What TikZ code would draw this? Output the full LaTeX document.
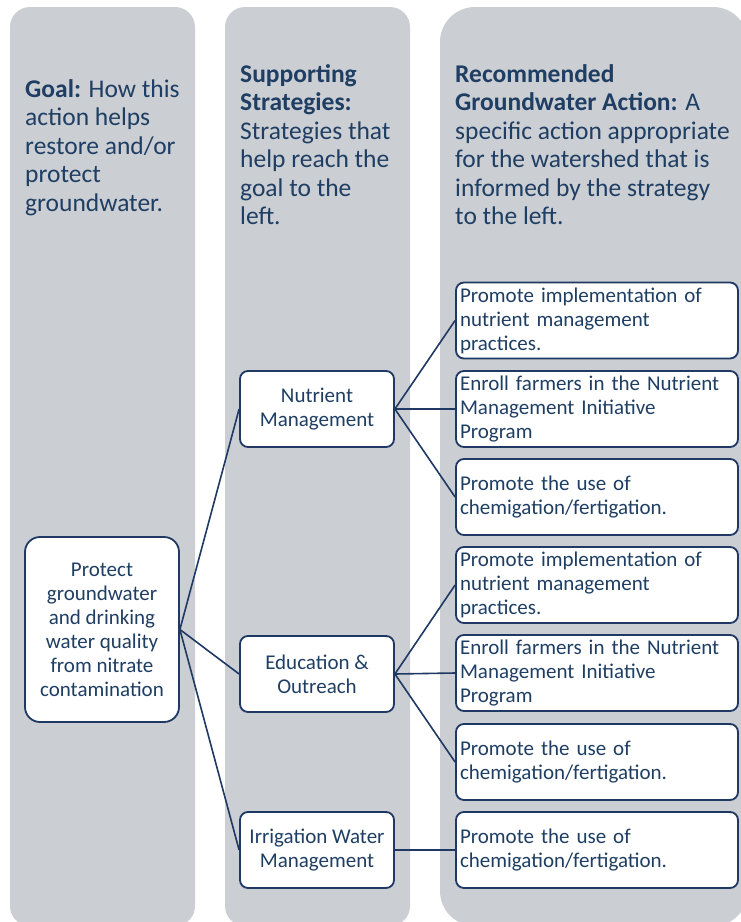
\documentclass[tikz,border=0pt]{standalone}
\usepackage{fontspec}
\setmainfont{Carlito}
\usepackage{xcolor}
\usepackage{tikz}
\usetikzlibrary{positioning}
\definecolor{panelgray}{RGB}{203,206,211}
\definecolor{navy}{RGB}{31,56,100}
\definecolor{ink}{RGB}{31,62,99}
\newcommand{\ColBottom}{926}
\newcommand{\HeadFont}{\fontsize{25.5}{28.5}\selectfont}
\newcommand{\BoxFont}{\fontsize{21}{24}\selectfont}
\tikzset{
  panel/.style={fill=panelgray, rounded corners=20pt},
  head/.style={anchor=north west, align=left, inner sep=0pt, text=ink, font=\HeadFont},
  card/.style={draw=navy, fill=white, line width=1.8pt, rounded corners=8pt, text=ink, font=\BoxFont},
  goalbox/.style={card, rounded corners=15pt, minimum width=154pt, minimum height=185pt, align=center, inner sep=2pt},
  strat/.style={card, minimum width=154pt, minimum height=76pt, align=center, inner sep=2pt},
  act/.style={card, minimum width=282pt, minimum height=76pt, text width=274pt, align=left, inner xsep=4pt, inner ysep=2pt},
  link/.style={draw=navy, line width=1.6pt}
}
\begin{document}
\begin{tikzpicture}[x=1pt, y=-1pt]
  \useasboundingbox (0,0) rectangle (740,922);
  % columns
  \fill[panel] (10,7) rectangle (195,\ColBottom);
  \fill[panel] (225,7) rectangle (410,\ColBottom);
  \fill[panel, rounded corners=35pt] (440,7) rectangle (748,\ColBottom);
  % column headings
  \node[head] (hgoal) at (25,79) {\textbf{Goal:} How this\\action helps\\restore and/or\\protect\\groundwater.};
  \node[head] (hstrat) at (240,64) {\textbf{Supporting}\\\textbf{Strategies:}\\Strategies that\\help reach the\\goal to the\\left.};
  \node[head] (hact) at (455,64) {\textbf{Recommended}\\\textbf{Groundwater Action:} A\\specific action appropriate\\for the watershed that is\\informed by the strategy\\to the left.};
  % goal
  \node[goalbox] (goal) at (102,629.5) {Protect\\groundwater\\and drinking\\water quality\\from nitrate\\contamination};
  % strategies
  \node[strat] (nut) at (317,409) {Nutrient\\Management};
  \node[strat] (edu) at (317,674) {Education \&\\Outreach};
  \node[strat] (irr) at (317,850) {Irrigation Water\\Management};
  % actions
  \node[act] (a1) at (597,320.5) {Promote implementation of\\nutrient management\\practices.};
  \node[act] (a2) at (597,409) {Enroll farmers in the Nutrient\\Management Initiative\\Program};
  \node[act] (a3) at (597,497) {Promote the use of\\chemigation/fertigation.};
  \node[act] (a4) at (597,585) {Promote implementation of\\nutrient management\\practices.};
  \node[act] (a5) at (597,673) {Enroll farmers in the Nutrient\\Management Initiative\\Program};
  \node[act] (a6) at (597,762) {Promote the use of\\chemigation/fertigation.};
  \node[act] (a7) at (597,850) {Promote the use of\\chemigation/fertigation.};
  % connectors
  \foreach \s in {nut,edu,irr}
    \draw[link] (goal.east) -- (\s.west);
  \foreach \a in {a1,a2,a3}
    \draw[link] (nut.east) -- (\a.west);
  \foreach \a in {a4,a5,a6}
    \draw[link] (edu.east) -- (\a.west);
  \draw[link] (irr.east) -- (a7.west);
\end{tikzpicture}
\end{document}
